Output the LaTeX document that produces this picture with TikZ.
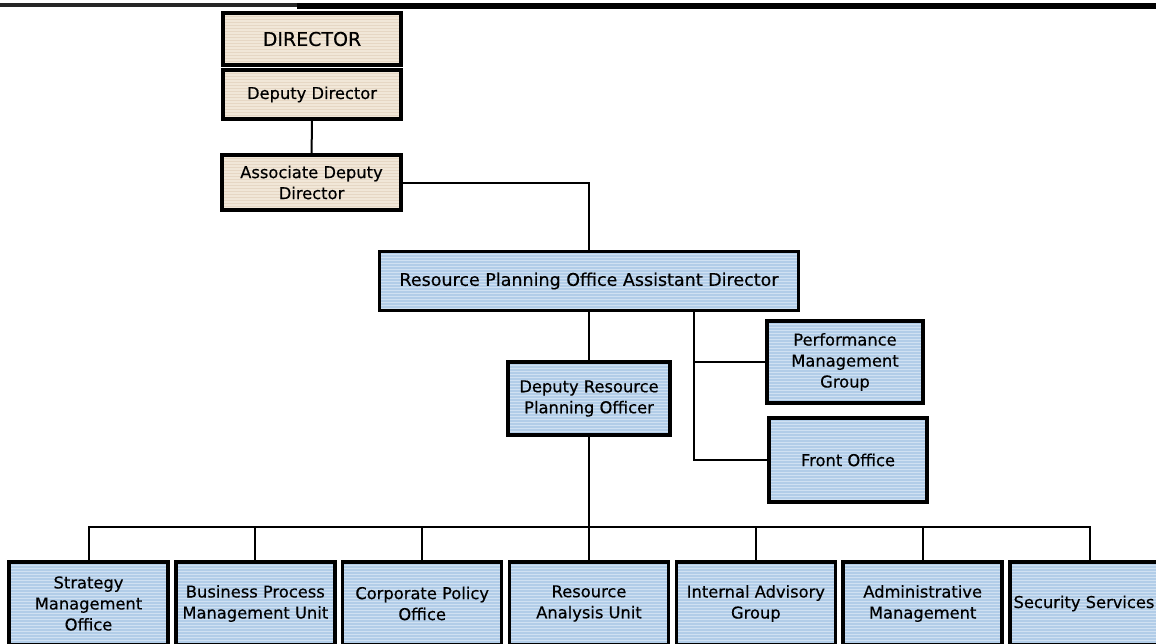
\documentclass[tikz,border=0pt]{standalone}
\usepackage{fontspec}
\setmainfont{DejaVu Sans}[FakeBold=0.4]
\definecolor{be}{RGB}{241,231,216}
\definecolor{bes}{RGB}{230,215,196}
\definecolor{xanh}{RGB}{178,205,232}
\definecolor{xanhs}{RGB}{208,225,242}
\begin{document}
\begin{tikzpicture}[x=1pt,y=-1pt,font=\fontsize{16.3}{21}\selectfont]
	\useasboundingbox (0,0)rectangle(1156,643);
	\fill[white](0,0)rectangle(1156,643);
	\tikzset{hop/.style={draw,line width=3.5pt,align=center,inner sep=0pt,
	path picture={\foreach \k in{1,...,30}
	\draw[#1,line width=1pt]([yshift=-\k*3pt]path picture bounding box.north west)--([yshift=-\k*3pt]path picture bounding box.north east);}}}
	\tikzset{hopbe/.style={hop=bes,fill=be},hopxanh/.style={hop=xanhs,fill=xanh}}
	\tikzset{noi/.style={line width=2pt}}
	\fill[black!85](0,3)rectangle(297,6.5);
	\fill(297,2.5)rectangle(1156,8.5);
	\path(312,39)node[hopbe,minimum width=178,minimum height=52,font=\fontsize{19}{22}\selectfont](dir){DIRECTOR};
	\path(312,94.5)node[hopbe,minimum width=178,minimum height=49](dd){Deputy Director};
	\path(311.5,182.5)node[hopbe,minimum width=179,minimum height=55](add){Associate Deputy\\Director};
	\path(589,281)node[hopxanh,minimum width=419,minimum height=59,font=\fontsize{17.5}{21}\selectfont](rpo){Resource Planning Office Assistant Director};
	\path(589,398.5)node[hopxanh,minimum width=162,minimum height=73](drpo){Deputy Resource\\Planning Officer};
	\path(845,362)node[hopxanh,minimum width=156,minimum height=82](pmg){Performance\\Management\\Group};
	\path(848,460)node[hopxanh,minimum width=158,minimum height=84](fo){Front Office};
	\foreach \i/\t in {0/{Strategy\\Management\\Office},1/{Business Process\\Management Unit},2/{Corporate Policy\\Office},3/{Resource\\Analysis Unit},4/{Internal Advisory\\Group},5/{Administrative\\Management},6/{Security Services\hspace*{11pt}}}
	\path(88.5+166.8333*\i,603.5)node[hopxanh,minimum width=159,minimum height=83](b\i){\t};
	\draw[noi](dd)--(add);
	\draw[noi](add.east)-|(rpo.north);
	\draw[noi](rpo)--(drpo);
	\draw[noi](rpo.south-|694,0)coordinate(r)|-(fo.west);
	\draw[noi](r|-pmg.west)--(pmg.west);
	\draw[noi](drpo.south)--++(0,90)coordinate(bus);
	\draw[noi](b0.north)|-(bus)-|(b6.north);
	\foreach \i in{1,...,5}
	\draw[noi](b\i.north)--(b\i.north|-bus);
	\end{tikzpicture}
\end{document}
